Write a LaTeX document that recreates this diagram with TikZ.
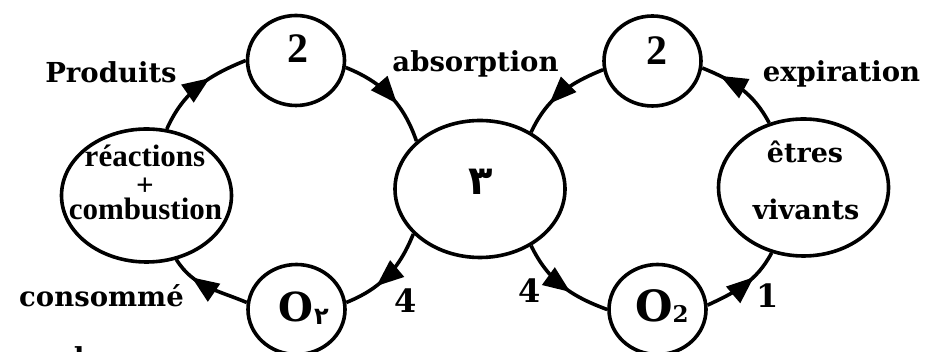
\documentclass[tikz,border=0pt]{standalone}
\usepackage{fontspec}
\setmainfont{DejaVu Serif}
\newfontfamily\tnr{Liberation Serif}
\newfontfamily\arabicfont[Script=Arabic]{DejaVu Sans}
\usetikzlibrary{shapes.geometric,arrows.meta,decorations.markings}
\tikzset{
  ln/.style={line width=3.6pt},
  cyc/.style={ln, postaction={decorate}, decoration={markings,
      mark=at position #1 with {\fill (5pt,0pt) -- (-22pt,11pt) -- (-22pt,-11pt) -- cycle;}}},
  cyc/.default=0.6,
  bub/.style={ellipse, draw, ln, inner sep=0pt, fill=white},
  small/.style={bub, minimum width=97pt, minimum height=90pt},
  big/.style={bub, minimum width=170pt, minimum height=133pt},
  lab/.style={inner sep=0pt, anchor=base, font=\bfseries\fontsize{27.5}{30}\selectfont},
  num/.style={inner sep=0pt, anchor=base, font=\bfseries\fontsize{32}{36}\selectfont},
  dig/.style={inner sep=0pt, anchor=base, font=\tnr\bfseries\fontsize{42}{44}\selectfont},
  intxt/.style={inner sep=0pt, anchor=base, font=\bfseries\fontsize{27}{30}\selectfont},
  reac/.style={inner sep=0pt, anchor=base, font=\tnr\bfseries\fontsize{31}{33}\selectfont},
}
\begin{document}
\begin{tikzpicture}[x=1pt,y=1pt]
\useasboundingbox (0,0) rectangle (925,352);
\clip (0,0) rectangle (925,352);
% nodes
\node[big] (eR) at (146.5,156.5) {};
\node[big, minimum height=137pt] (eM) at (480,163) {};
\node[big, minimum height=137pt] (eV) at (803.5,164.5) {};
\node[small] (c2L) at (296,291.5) {};
\node[small] (c2R) at (652.5,291) {};
\node[small] (cOL) at (296.5,42.5) {};
\node[small] (cOR) at (657.5,42.5) {};
% left cycle
\draw[cyc=0.58] (eR.73) to[out=66,in=202] (c2L.180);
\draw[cyc=0.55] (c2L.352) to[out=-22,in=109] (eM.143);
\draw[cyc=0.6] (eM.214) to[out=248,in=22] (cOL.8);
\draw[cyc=0.66] (cOL.172) to[out=157,in=302] (eR.295);
% right cycle
\draw[cyc=0.72] (eV.118) to[out=118,in=338] (c2R.352);
\draw[cyc=0.6] (c2R.190) to[out=202,in=65] (eM.48);
\draw[cyc=0.55] (eM.312) to[out=296,in=160] (cOR.180);
\draw[cyc=0.58] (cOR.5) to[out=25,in=242] (eV.244);
% texts in nodes
\node[dig] (t2L) at (298,289) {2};
\node[dig] (t2R) at (657,287) {2};
\node[inner sep=0pt, anchor=base] (t3) at (481,157) {\arabicfont\bfseries\fontsize{40}{42}\selectfont ٣};
\node[reac] (r1) at (145,185) {réactions};
\node[reac] (r2) at (145,156) {+};
\node[reac] (r3) at (145.5,132) {combustion};
\node[intxt] (v1) at (805,189) {êtres};
\node[intxt] (v2) at (806,132) {vivants};
\node[inner sep=0pt, anchor=base west] (oL) at (278,30) {\bfseries\fontsize{40}{44}\selectfont O\kern1pt\raisebox{-3pt}{\arabicfont\bfseries\fontsize{24}{24}\selectfont ٢}};
\node[inner sep=0pt, anchor=base west] (oR) at (635,30) {\bfseries\fontsize{43}{46}\selectfont O\kern0pt\raisebox{-1pt}{\fontsize{23}{24}\selectfont 2}};
% labels
\node[lab] (lp) at (111,269) {Produits};
\node[lab] (la) at (475.5,280) {absorption};
\node[lab] (le) at (841.5,270) {expiration};
\node[lab] (lc) at (101.5,45) {consommé};
\node[lab] (ld) at (101.5,-16) {dans};
\node[num] (n4a) at (406,39) {4};
\node[num] (n4b) at (530,49) {4};
\node[num] (n1) at (768,44) {1};
\end{tikzpicture}
\end{document}
